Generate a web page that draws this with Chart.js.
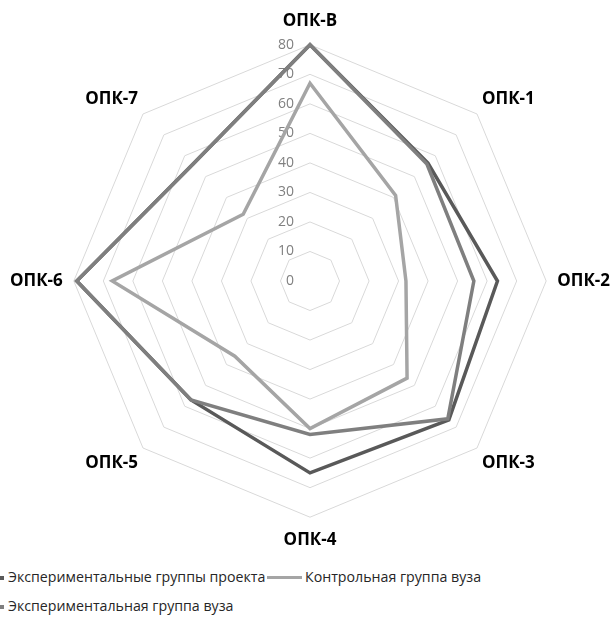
<!DOCTYPE html>
<html>
<head>
<meta charset="utf-8">
<script src="https://cdn.jsdelivr.net/npm/chart.js@4"></script>
<style>
  html, body { margin: 0; padding: 0; background: #fff; }
  #wrap { position: relative; width: 612px; height: 619px; overflow: hidden; font-family: "Open Sans", sans-serif; }
  #chartBox { position: absolute; left: 0; top: 0; width: 612px; height: 562px; }
  .leg { position: absolute; font-size: 14.2px; color: #262626; white-space: nowrap; line-height: 20px; }
  .mk { position: absolute; height: 4px; }
</style>
</head>
<body>
<div id="wrap">
  <div id="chartBox"><canvas id="radarCanvas"></canvas></div>
  <div class="mk" style="left:0;top:576px;width:4px;background:#595959"></div>
  <div class="leg" style="left:8px;top:567px">Экспериментальные группы проекта</div>
  <div class="mk" style="left:267px;top:576px;width:35px;height:3px;background:#a5a5a5"></div>
  <div class="leg" style="left:305px;top:567px">Контрольная группа вуза</div>
  <div class="mk" style="left:0;top:605px;width:4px;background:#7f7f7f"></div>
  <div class="leg" style="left:8px;top:596px">Экспериментальная группа вуза</div>
</div>
<script>
// категории (компетенции)
const competencias = ['ОПК-В', 'ОПК-1', 'ОПК-2', 'ОПК-3', 'ОПК-4', 'ОПК-5', 'ОПК-6', 'ОПК-7'];
// ряды
const expGruposProyecto = [80, 56.5, 63.5, 66.5, 65, 57, 79, 56];
const controlVuz = [67, 41, 32.5, 46.5, 50, 36, 67, 32];
const expGrupoVuz = [80, 56, 55.5, 66, 52, 57, 79, 56];
const tickValues = [0, 10, 20, 30, 40, 50, 60, 70, 80];

// подписи шкалы слева от вертикальной оси, под линиями рядов
const tickLabelsPlugin = {
  id: 'tickLabels',
  beforeDatasetsDraw(chart) {
    const r = chart.scales.r;
    const ctx = chart.ctx;
    ctx.save();
    ctx.font = '14px "Open Sans", sans-serif';
    ctx.fillStyle = '#808080';
    ctx.textAlign = 'right';
    ctx.textBaseline = 'middle';
    tickValues.forEach(v => {
      const d = r.getDistanceFromCenterForValue(v);
      ctx.fillText(String(v), r.xCenter - 16, r.yCenter - d);
    });
    ctx.restore();
  }
};

const ctx = document.getElementById('radarCanvas').getContext('2d');
new Chart(ctx, {
  type: 'radar',
  data: {
    labels: competencias,
    datasets: [
      {
        label: 'Экспериментальные группы проекта',
        data: expGruposProyecto,
        borderColor: '#595959',
        borderWidth: 3.5,
        pointRadius: 0,
        fill: false,
        order: 2
      },
      {
        label: 'Контрольная группа вуза',
        data: controlVuz,
        borderColor: '#a5a5a5',
        borderWidth: 3.5,
        pointRadius: 0,
        fill: false,
        order: 1
      },
      {
        label: 'Экспериментальная группа вуза',
        data: expGrupoVuz,
        borderColor: '#7f7f7f',
        borderWidth: 3.5,
        pointRadius: 0,
        fill: false,
        order: 0
      }
    ]
  },
  options: {
    responsive: true,
    maintainAspectRatio: false,
    animation: false,
    layout: { padding: { left: 10, right: 2 } },
    elements: { line: { tension: 0, borderJoinStyle: 'miter' } },
    plugins: {
      legend: { display: false },
      tooltip: { enabled: false }
    },
    scales: {
      r: {
        min: 0,
        max: 80,
        ticks: { stepSize: 10, display: false },
        grid: { color: '#d9d9d9', lineWidth: 1 },
        angleLines: { display: false },
        pointLabels: {
          color: '#000',
          // диагональные подписи ближе к сетке
          padding: (c) => (c.index % 2 === 1 ? 7 : (c.index % 4 === 0 ? 13 : 11)),
          font: { family: '"Open Sans", sans-serif', size: 17, weight: 'bold' }
        }
      }
    }
  },
  plugins: [tickLabelsPlugin]
});
</script>
</body>
</html>
